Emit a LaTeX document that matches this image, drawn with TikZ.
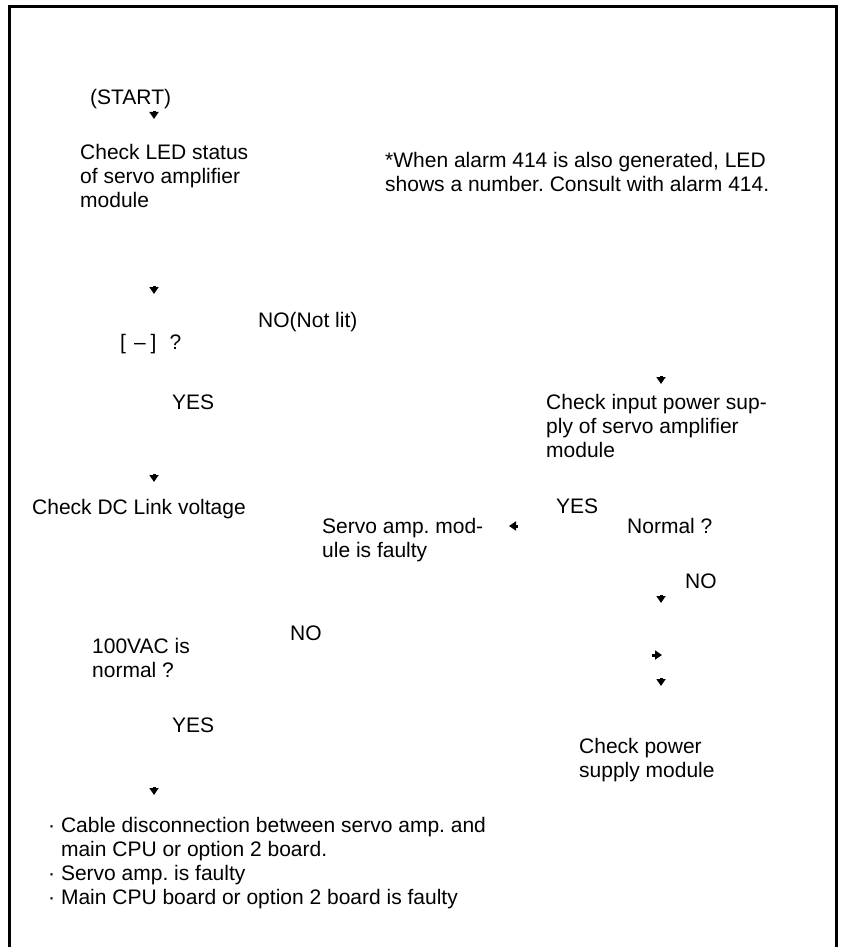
\documentclass[tikz,border=0pt]{standalone}
\usepackage{fontspec}
\setmainfont{Liberation Sans}
\frenchspacing
\usetikzlibrary{arrows.meta, positioning}
\tikzset{
    flowtext/.style={inner sep=0pt, anchor=base west, font=\fontsize{21}{24}\selectfont},
    stepbox/.style={inner sep=0pt, anchor=north west, align=left, font=\fontsize{21}{24}\selectfont},
    answer/.style={flowtext},
    headtip/.style={-{Triangle[width=9pt,length=7pt]}, line width=3pt}
}

\begin{document}
\begin{tikzpicture}[x=1pt, y=-1pt]
    \useasboundingbox (0,0) rectangle (848,947);
    % Frame (open at the bottom)
    \draw[line width=3pt] (9.5,952) -- (9.5,6.5) -- (836.5,6.5) -- (836.5,952);

    % Steps
    \node[flowtext] (start) at (90,105) {(START)};
    \node[stepbox] (note) at (385,152) {*When alarm 414 is also generated, LED\\shows a number. Consult with alarm 414.};
    \node[stepbox] (ledcheck) at (80,144) {Check LED status\\of servo amplifier\\module};
    \node[flowtext] (ledq) at (120,349) {[\hspace{8pt}–\hspace{5pt}]\hspace{13pt}?};
    \node[stepbox] (inputcheck) at (546,394) {Check input power sup-\\ply of servo amplifier\\module};
    \node[flowtext] (dccheck) at (32,514) {Check DC Link voltage};
    \node[stepbox] (ampfault) at (322,518) {Servo amp. mod-\\ule is faulty};
    \node[flowtext] (normalq) at (627,533) {Normal ?};
    \node[stepbox] (vacq) at (92,638) {100VAC is\\normal ?};
    \node[stepbox] (psucheck) at (579,738) {Check power\\supply module};
    \node[stepbox] (causes) at (48,817) {· Cable disconnection between servo amp. and\\\phantom{· }main CPU or option 2 board.\\· Servo amp. is faulty\\· Main CPU board or option 2 board is faulty};

    % Answers
    \node[answer] (nolit) at (258,327) {NO(Not lit)};
    \node[answer] (yesled) at (172,409) {YES};
    \node[answer] (yesnormal) at (556,513) {YES};
    \node[answer] (nonormal) at (685,588) {NO};
    \node[answer] (novac) at (290,640) {NO};
    \node[answer] (yesvac) at (172,732) {YES};

    % Arrow heads
    \coordinate (h1) at (154,111);
    \coordinate (h2) at (154,286);
    \coordinate (h3) at (661,376);
    \coordinate (h4) at (154,474);
    \coordinate (h5) at (518,526);
    \coordinate (h6) at (661,595);
    \coordinate (h7) at (652,655);
    \coordinate (h8) at (661,678);
    \coordinate (h9) at (154,787);
    \foreach \h in {h1, h2, h3, h4, h6, h8, h9} {
        \draw[headtip] (\h) -- ++(0,8);
    }
    \draw[headtip] (h5) -- ++(-9,0);
    \draw[headtip] (h7) -- ++(10,0);
\end{tikzpicture}
\end{document}
